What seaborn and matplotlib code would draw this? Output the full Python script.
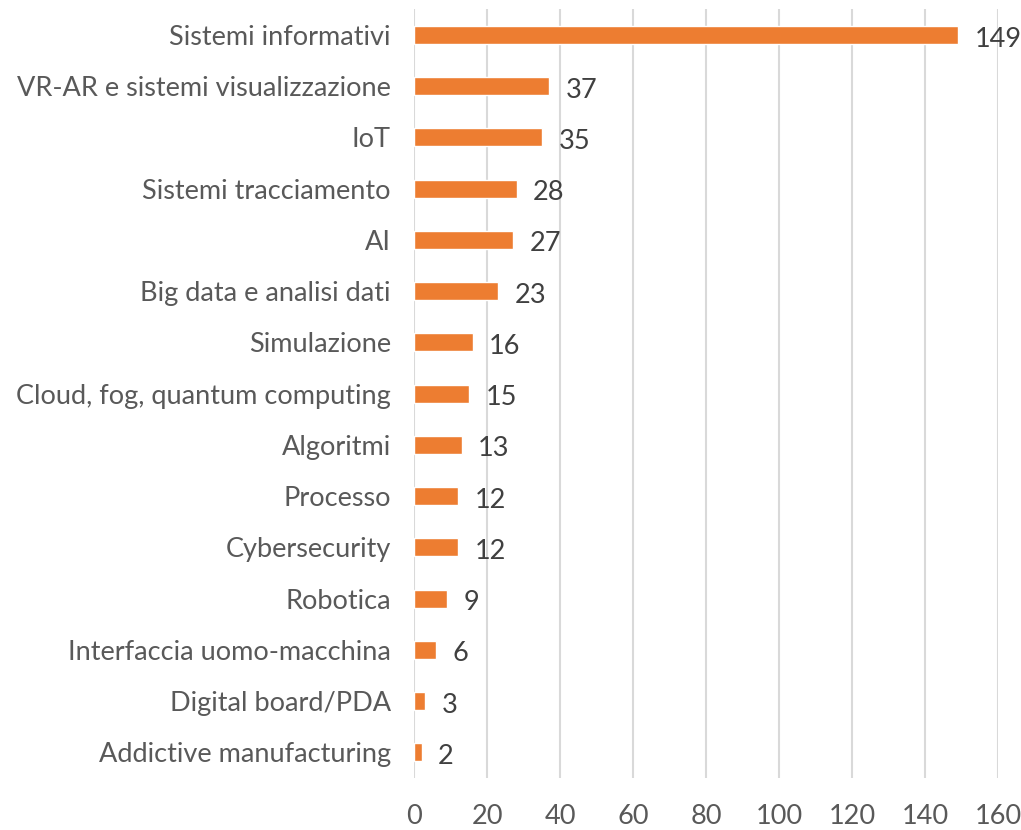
import matplotlib
matplotlib.use("Agg")
import matplotlib.pyplot as plt
import seaborn as sns
import pandas as pd

# categories and counts, top to bottom
categories = [
    "Sistemi informativi",
    "VR-AR e sistemi visualizzazione",
    "IoT",
    "Sistemi tracciamento",
    "AI",
    "Big data e analisi dati",
    "Simulazione",
    "Cloud, fog, quantum computing",
    "Algoritmi",
    "Processo",
    "Cybersecurity",
    "Robotica",
    "Interfaccia uomo-macchina",
    "Digital board/PDA",
    "Addictive manufacturing",
]
counts = [149, 37, 35, 28, 27, 23, 16, 15, 13, 12, 12, 9, 6, 3, 2]
x_ticks = [0, 20, 40, 60, 80, 100, 120, 140, 160]

df = pd.DataFrame({"categoria": categories, "n": counts})

sns.set_theme(style="white")
plt.rcParams['font.family'] = ['Lato', 'DejaVu Sans']

fig = plt.figure(figsize=(10.21, 8.3), dpi=100)
ax = fig.add_axes([0.4058, 0.0627, 0.5721, 0.9261])

sns.barplot(data=df, x="n", y="categoria", color="#ED7D31", saturation=1,
            width=0.35, ax=ax, zorder=3)

for i, v in enumerate(counts):
    ax.text(v + 4.5, i + 0.08, str(v), va="center", ha="left", fontsize=19.5,
            color="#404040")

ax.set_xlim(0, 160)
ax.set_ylim(14.5, -0.5)
ax.set_xticks(x_ticks)
ax.set_xticklabels([str(t) for t in x_ticks])
ax.grid(axis="x", color="#D9D9D9", linewidth=1.5, zorder=0)
ax.grid(axis="y", visible=False)
for s in ax.spines.values():
    s.set_visible(False)
ax.set_xlabel("")
ax.set_ylabel("")
ax.tick_params(axis="both", length=0, labelsize=19.5, labelcolor="#595959")
ax.tick_params(axis="x", pad=19)
ax.tick_params(axis="y", pad=17)

fig.savefig("out.png", dpi=100)
